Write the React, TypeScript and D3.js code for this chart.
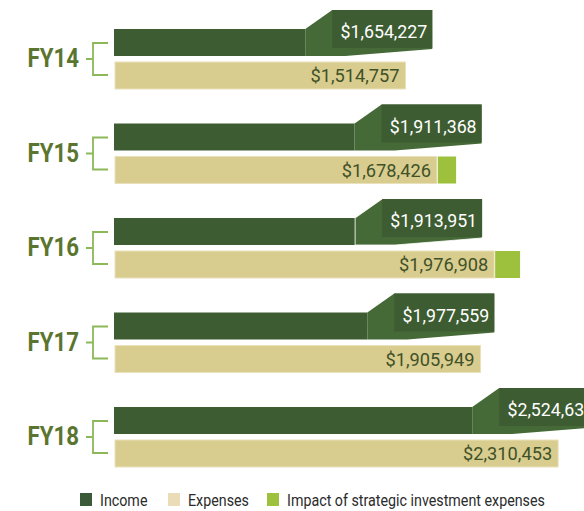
import { useEffect, useRef } from "react";
import * as d3 from "d3";

const years = ["FY14", "FY15", "FY16", "FY17", "FY18"];
const income = [1654227, 1911368, 1913951, 1977559, 2524630];
const expenses = [1514757, 1678426, 1976908, 1905949, 2310453];
const impact = [0, 100000, 135000, 0, 0];
const legendLabels = ["Income", "Expenses", "Impact of strategic investment expenses"];

const FONT = "'Roboto', sans-serif";

const App = () => {
    const ref = useRef<SVGSVGElement>(null);

    useEffect(() => {
        const svg = d3.select(ref.current);
        svg.selectAll("*").remove();

        const width = 584;
        const height = 511;

        const x = d3.scaleLinear().domain([0, 2500000]).range([115, 594.5]);
        const y = d3.scaleBand().domain(years).range([29, 29 + 94.5 * 5]).padding(0);

        const fmt = (v) => "$" + d3.format(",")(v);

        const rows = years.map((yr, i) => ({
            yr,
            income: income[i],
            expenses: expenses[i],
            impact: impact[i],
        }));

        const g = svg.selectAll("g.row").data(rows).join("g").attr("class", "row");

        // year labels (condensed look via horizontal scale)
        g.append("text")
            .attr("transform", (d) => `translate(79,${y(d.yr) + 38}) scale(0.89,1)`)
            .attr("text-anchor", "end")
            .attr("font-family", FONT)
            .attr("font-weight", "bold")
            .attr("font-size", 25)
            .attr("fill", "#5b7530")
            .text((d) => d.yr);

        // bracket
        g.append("path")
            .attr("d", (d) => {
                const t = y(d.yr);
                return `M108,${t + 14}H93V${t + 46}H108M86,${t + 30}H93`;
            })
            .attr("fill", "none")
            .attr("stroke", "#8cb85a")
            .attr("stroke-width", 1.8);

        // expenses bars
        g.append("rect")
            .attr("x", x(0))
            .attr("y", (d) => y(d.yr) + 33)
            .attr("width", (d) => x(d.expenses) - x(0))
            .attr("height", 27)
            .attr("fill", "#d9cc8f")
            .attr("stroke", "#e9e1bb")
            .attr("stroke-width", 1);

        // impact of strategic investment
        g.filter((d) => d.impact > 0)
            .append("rect")
            .attr("x", (d) => x(d.expenses) + 1)
            .attr("y", (d) => y(d.yr) + 33)
            .attr("width", (d) => x(d.expenses + d.impact) - x(d.expenses) - 1)
            .attr("height", 27)
            .attr("fill", "#9dc13c");

        g.append("text")
            .attr("transform", (d) => `translate(${x(d.expenses) - 6},${y(d.yr) + 53}) scale(0.96,1)`)
            .attr("text-anchor", "end")
            .attr("font-family", FONT)
            .attr("font-size", 19)
            .attr("fill", "#3f5228")
            .text((d) => fmt(d.expenses));

        // income bars: dark bar, lighter shoulder, label box
        g.append("rect")
            .attr("x", x(0) - 1)
            .attr("y", (d) => y(d.yr))
            .attr("width", (d) => x(d.income) - 127 - x(0) + 1)
            .attr("height", 27)
            .attr("fill", "#3e5c31");

        g.append("path")
            .attr("d", (d) => {
                const t = y(d.yr);
                const e = x(d.income);
                const s = e - 127;
                return `M${s},${t}L${s + 27},${t - 19}H${e}V${t + 20}L${s + 40},${t + 27}H${s}Z`;
            })
            .attr("fill", "#466a37")
            .attr("stroke", (d) => (d.yr === "FY16" ? "#fff" : "none"))
            .attr("stroke-width", 0.8);

        g.append("rect")
            .attr("x", (d) => x(d.income) - 100)
            .attr("y", (d) => y(d.yr) - 19)
            .attr("width", 100)
            .attr("height", 38)
            .attr("fill", "#3e5c31");

        g.append("text")
            .attr("transform", (d) => `translate(${x(d.income) - 5},${y(d.yr) + 9}) scale(0.96,1)`)
            .attr("text-anchor", "end")
            .attr("font-family", FONT)
            .attr("font-size", 18.5)
            .attr("fill", "#fff")
            .text((d) => fmt(d.income));

        // legend
        const legendColors = ["#3a5a38", "#eadcb6", "#9dc13c"];
        const legendX = [80, 168, 267];
        const lg = svg
            .append("g")
            .selectAll("g")
            .data(legendLabels)
            .join("g")
            .attr("transform", (d, i) => `translate(${legendX[i]},493)`);

        lg.append("rect")
            .attr("width", 12)
            .attr("height", 13)
            .attr("fill", (d, i) => legendColors[i]);

        lg.append("text")
            .attr("transform", "translate(20,13) scale(0.84,1)")
            .attr("font-family", FONT)
            .attr("font-size", 17)
            .attr("fill", "#2b2b2b")
            .text((d) => d);

        svg.attr("width", width).attr("height", height);
    }, []);

    return (
        <svg
            ref={ref}
            width={584}
            height={511}
            style={{ position: "absolute", left: 0, top: 0, background: "#fff" }}
        ></svg>
    );
};

export default App;
